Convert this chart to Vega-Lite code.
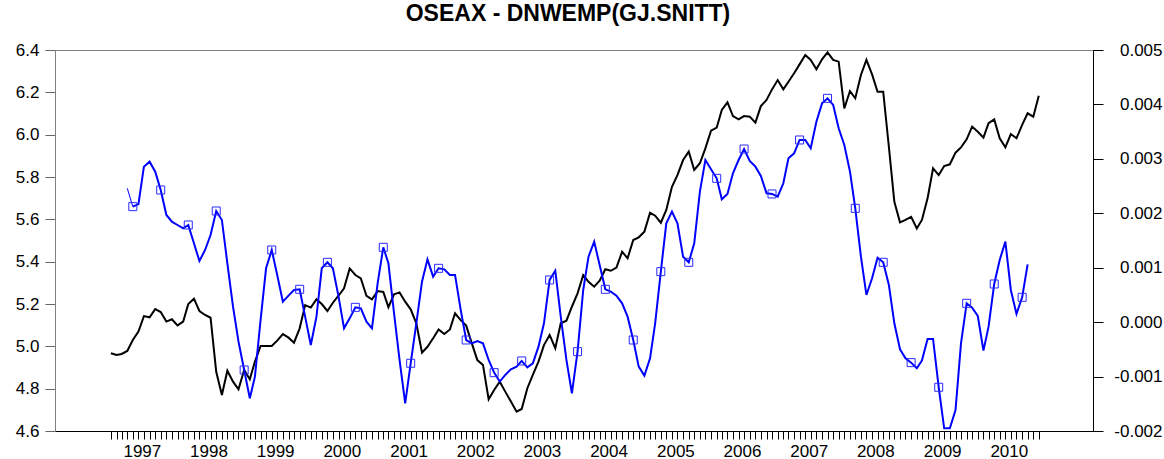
{
"$schema": "https://vega.github.io/schema/vega-lite/v6.json",
"width": 1038, "height": 381,
"autosize": {"type": "none"},
"padding": {"left": 55, "top": 50, "right": 71, "bottom": 28},
"background": "white",
"config": {"font": "Liberation Sans", "view": {"stroke": "#808080", "strokeWidth": 1}, "axis": {"grid": false}},
"title": {"text": "OSEAX - DNWEMP(GJ.SNITT)", "fontSize": 23, "fontWeight": "bold", "font": "Liberation Sans", "color": "black", "anchor": "middle", "offset": 15, "dx": -6},
"data": {"format": {"parse": {"d": "utc:'%Y-%m-%d'"}}, "values": [
{"d":"1997-01-01","oseax":4.967,"dnw":null},
{"d":"1997-02-01","oseax":4.959,"dnw":null},
{"d":"1997-03-01","oseax":4.964,"dnw":null},
{"d":"1997-04-01","oseax":4.978,"dnw":0.002459},
{"d":"1997-05-01","oseax":5.03,"dnw":0.002122},
{"d":"1997-06-01","oseax":5.07,"dnw":0.00217},
{"d":"1997-07-01","oseax":5.143,"dnw":0.002857},
{"d":"1997-08-01","oseax":5.137,"dnw":0.002949},
{"d":"1997-09-01","oseax":5.176,"dnw":0.002765},
{"d":"1997-10-01","oseax":5.162,"dnw":0.002428},
{"d":"1997-11-01","oseax":5.117,"dnw":0.001969},
{"d":"1997-12-01","oseax":5.128,"dnw":0.001846},
{"d":"1998-01-01","oseax":5.099,"dnw":0.001785},
{"d":"1998-02-01","oseax":5.117,"dnw":0.001724},
{"d":"1998-03-01","oseax":5.2,"dnw":0.001785},
{"d":"1998-04-01","oseax":5.225,"dnw":0.001448},
{"d":"1998-05-01","oseax":5.167,"dnw":0.001124},
{"d":"1998-06-01","oseax":5.148,"dnw":0.001326},
{"d":"1998-07-01","oseax":5.135,"dnw":0.001601},
{"d":"1998-08-01","oseax":4.88,"dnw":0.002042},
{"d":"1998-09-01","oseax":4.77,"dnw":0.001877},
{"d":"1998-10-01","oseax":4.885,"dnw":0.001081},
{"d":"1998-11-01","oseax":4.833,"dnw":0.000285},
{"d":"1998-12-01","oseax":4.797,"dnw":-0.000358},
{"d":"1999-01-01","oseax":4.888,"dnw":-0.000879},
{"d":"1999-02-01","oseax":4.844,"dnw":-0.001399},
{"d":"1999-03-01","oseax":4.928,"dnw":-0.001001},
{"d":"1999-04-01","oseax":5.002,"dnw":0.00004},
{"d":"1999-05-01","oseax":5.002,"dnw":0.000989},
{"d":"1999-06-01","oseax":5.002,"dnw":0.001326},
{"d":"1999-07-01","oseax":5.027,"dnw":0.000867},
{"d":"1999-08-01","oseax":5.058,"dnw":0.000377},
{"d":"1999-09-01","oseax":5.041,"dnw":0.000487},
{"d":"1999-10-01","oseax":5.017,"dnw":0.000591},
{"d":"1999-11-01","oseax":5.085,"dnw":0.000603},
{"d":"1999-12-01","oseax":5.195,"dnw":0.000101},
{"d":"2000-01-01","oseax":5.183,"dnw":-0.000419},
{"d":"2000-02-01","oseax":5.222,"dnw":0.000101},
{"d":"2000-03-01","oseax":5.2,"dnw":0.000989},
{"d":"2000-04-01","oseax":5.167,"dnw":0.001099},
{"d":"2000-05-01","oseax":5.206,"dnw":0.000989},
{"d":"2000-06-01","oseax":5.239,"dnw":0.000468},
{"d":"2000-07-01","oseax":5.274,"dnw":-0.000113},
{"d":"2000-08-01","oseax":5.368,"dnw":0.00007},
{"d":"2000-09-01","oseax":5.337,"dnw":0.000272},
{"d":"2000-10-01","oseax":5.321,"dnw":0.000254},
{"d":"2000-11-01","oseax":5.238,"dnw":0.000009},
{"d":"2000-12-01","oseax":5.222,"dnw":-0.000113},
{"d":"2001-01-01","oseax":5.261,"dnw":0.000713},
{"d":"2001-02-01","oseax":5.257,"dnw":0.001375},
{"d":"2001-03-01","oseax":5.185,"dnw":0.001081},
{"d":"2001-04-01","oseax":5.246,"dnw":0.000162},
{"d":"2001-05-01","oseax":5.255,"dnw":-0.000695},
{"d":"2001-06-01","oseax":5.211,"dnw":-0.001491},
{"d":"2001-07-01","oseax":5.175,"dnw":-0.000756},
{"d":"2001-08-01","oseax":5.109,"dnw":-0.000021},
{"d":"2001-09-01","oseax":4.97,"dnw":0.000744},
{"d":"2001-10-01","oseax":4.998,"dnw":0.001154},
{"d":"2001-11-01","oseax":5.038,"dnw":0.000836},
{"d":"2001-12-01","oseax":5.08,"dnw":0.000989},
{"d":"2002-01-01","oseax":5.058,"dnw":0.00097},
{"d":"2002-02-01","oseax":5.08,"dnw":0.000867},
{"d":"2002-03-01","oseax":5.156,"dnw":0.000867},
{"d":"2002-04-01","oseax":5.124,"dnw":0.000224},
{"d":"2002-05-01","oseax":5.098,"dnw":-0.000328},
{"d":"2002-06-01","oseax":5.014,"dnw":-0.000389},
{"d":"2002-07-01","oseax":4.935,"dnw":-0.000346},
{"d":"2002-08-01","oseax":4.912,"dnw":-0.000389},
{"d":"2002-09-01","oseax":4.75,"dnw":-0.000695},
{"d":"2002-10-01","oseax":4.794,"dnw":-0.000928},
{"d":"2002-11-01","oseax":4.833,"dnw":-0.001093},
{"d":"2002-12-01","oseax":4.786,"dnw":-0.00097},
{"d":"2003-01-01","oseax":4.739,"dnw":-0.000866},
{"d":"2003-02-01","oseax":4.691,"dnw":-0.000817},
{"d":"2003-03-01","oseax":4.704,"dnw":-0.000713},
{"d":"2003-04-01","oseax":4.802,"dnw":-0.00083},
{"d":"2003-05-01","oseax":4.865,"dnw":-0.000756},
{"d":"2003-06-01","oseax":4.928,"dnw":-0.00045},
{"d":"2003-07-01","oseax":5.006,"dnw":-0.000021},
{"d":"2003-08-01","oseax":5.054,"dnw":0.000775},
{"d":"2003-09-01","oseax":4.991,"dnw":0.000946},
{"d":"2003-10-01","oseax":5.109,"dnw":0.000101},
{"d":"2003-11-01","oseax":5.121,"dnw":-0.000695},
{"d":"2003-12-01","oseax":5.187,"dnw":-0.001307},
{"d":"2004-01-01","oseax":5.25,"dnw":-0.000542},
{"d":"2004-02-01","oseax":5.337,"dnw":0.000591},
{"d":"2004-03-01","oseax":5.305,"dnw":0.001203},
{"d":"2004-04-01","oseax":5.282,"dnw":0.001479},
{"d":"2004-05-01","oseax":5.31,"dnw":0.00105},
{"d":"2004-06-01","oseax":5.364,"dnw":0.000603},
{"d":"2004-07-01","oseax":5.357,"dnw":0.00056},
{"d":"2004-08-01","oseax":5.372,"dnw":0.000487},
{"d":"2004-09-01","oseax":5.447,"dnw":0.000346},
{"d":"2004-10-01","oseax":5.416,"dnw":0.000101},
{"d":"2004-11-01","oseax":5.502,"dnw":-0.000328},
{"d":"2004-12-01","oseax":5.515,"dnw":-0.000817},
{"d":"2005-01-01","oseax":5.542,"dnw":-0.000983},
{"d":"2005-02-01","oseax":5.631,"dnw":-0.000664},
{"d":"2005-03-01","oseax":5.617,"dnw":-0.000021},
{"d":"2005-04-01","oseax":5.584,"dnw":0.000928},
{"d":"2005-05-01","oseax":5.644,"dnw":0.001816},
{"d":"2005-06-01","oseax":5.754,"dnw":0.00203},
{"d":"2005-07-01","oseax":5.809,"dnw":0.001816},
{"d":"2005-08-01","oseax":5.88,"dnw":0.001203},
{"d":"2005-09-01","oseax":5.92,"dnw":0.001099},
{"d":"2005-10-01","oseax":5.833,"dnw":0.001448},
{"d":"2005-11-01","oseax":5.865,"dnw":0.002397},
{"d":"2005-12-01","oseax":5.935,"dnw":0.002979},
{"d":"2006-01-01","oseax":6.019,"dnw":0.002808},
{"d":"2006-02-01","oseax":6.033,"dnw":0.002642},
{"d":"2006-03-01","oseax":6.117,"dnw":0.002257},
{"d":"2006-04-01","oseax":6.153,"dnw":0.002355},
{"d":"2006-05-01","oseax":6.088,"dnw":0.002734},
{"d":"2006-06-01","oseax":6.072,"dnw":0.002979},
{"d":"2006-07-01","oseax":6.088,"dnw":0.003181},
{"d":"2006-08-01","oseax":6.085,"dnw":0.002961},
{"d":"2006-09-01","oseax":6.057,"dnw":0.002857},
{"d":"2006-10-01","oseax":6.135,"dnw":0.002685},
{"d":"2006-11-01","oseax":6.164,"dnw":0.002367},
{"d":"2006-12-01","oseax":6.214,"dnw":0.002355},
{"d":"2007-01-01","oseax":6.258,"dnw":0.002306},
{"d":"2007-02-01","oseax":6.214,"dnw":0.002551},
{"d":"2007-03-01","oseax":6.25,"dnw":0.00301},
{"d":"2007-04-01","oseax":6.29,"dnw":0.003102},
{"d":"2007-05-01","oseax":6.332,"dnw":0.003347},
{"d":"2007-06-01","oseax":6.376,"dnw":0.003347},
{"d":"2007-07-01","oseax":6.353,"dnw":0.003194},
{"d":"2007-08-01","oseax":6.309,"dnw":0.003683},
{"d":"2007-09-01","oseax":6.356,"dnw":0.00402},
{"d":"2007-10-01","oseax":6.389,"dnw":0.004112},
{"d":"2007-11-01","oseax":6.353,"dnw":0.00399},
{"d":"2007-12-01","oseax":6.345,"dnw":0.003561},
{"d":"2008-01-01","oseax":6.124,"dnw":0.003255},
{"d":"2008-02-01","oseax":6.206,"dnw":0.002765},
{"d":"2008-03-01","oseax":6.172,"dnw":0.002091},
{"d":"2008-04-01","oseax":6.282,"dnw":0.001203},
{"d":"2008-05-01","oseax":6.353,"dnw":0.000499},
{"d":"2008-06-01","oseax":6.285,"dnw":0.000806},
{"d":"2008-07-01","oseax":6.203,"dnw":0.001185},
{"d":"2008-08-01","oseax":6.203,"dnw":0.001099},
{"d":"2008-09-01","oseax":5.943,"dnw":0.000683},
{"d":"2008-10-01","oseax":5.683,"dnw":-0.000021},
{"d":"2008-11-01","oseax":5.586,"dnw":-0.000499},
{"d":"2008-12-01","oseax":5.597,"dnw":-0.000664},
{"d":"2009-01-01","oseax":5.612,"dnw":-0.000744},
{"d":"2009-02-01","oseax":5.557,"dnw":-0.000848},
{"d":"2009-03-01","oseax":5.597,"dnw":-0.000707},
{"d":"2009-04-01","oseax":5.699,"dnw":-0.000309},
{"d":"2009-05-01","oseax":5.841,"dnw":-0.000309},
{"d":"2009-06-01","oseax":5.809,"dnw":-0.001197},
{"d":"2009-07-01","oseax":5.852,"dnw":-0.00195},
{"d":"2009-08-01","oseax":5.86,"dnw":-0.00195},
{"d":"2009-09-01","oseax":5.915,"dnw":-0.001614},
{"d":"2009-10-01","oseax":5.94,"dnw":-0.000389},
{"d":"2009-11-01","oseax":5.978,"dnw":0.000346},
{"d":"2009-12-01","oseax":6.038,"dnw":0.000267},
{"d":"2010-01-01","oseax":6.014,"dnw":0.000113},
{"d":"2010-02-01","oseax":5.986,"dnw":-0.000524},
{"d":"2010-03-01","oseax":6.054,"dnw":-0.000083},
{"d":"2010-04-01","oseax":6.072,"dnw":0.000701},
{"d":"2010-05-01","oseax":5.983,"dnw":0.001142},
{"d":"2010-06-01","oseax":5.94,"dnw":0.001479},
{"d":"2010-07-01","oseax":6.003,"dnw":0.000591},
{"d":"2010-08-01","oseax":5.983,"dnw":0.00015},
{"d":"2010-09-01","oseax":6.046,"dnw":0.000456},
{"d":"2010-10-01","oseax":6.101,"dnw":0.001062},
{"d":"2010-11-01","oseax":6.085,"dnw":null},
{"d":"2010-12-01","oseax":6.184,"dnw":null}
]},
"encoding": {
  "x": {"field": "d", "type": "temporal",
    "scale": {"type": "utc", "domain": [{"year": 1996, "month": 3, "date": 1, "utc": true}, {"year": 2011, "month": 9, "date": 24, "utc": true}]},
    "axis": {"title": null, "grid": false,
      "values": [
{"year":1997,"month":1,"utc":true},{"year":1997,"month":2,"utc":true},{"year":1997,"month":3,"utc":true},{"year":1997,"month":4,"utc":true},{"year":1997,"month":5,"utc":true},{"year":1997,"month":6,"utc":true},{"year":1997,"month":7,"utc":true},{"year":1997,"month":8,"utc":true},{"year":1997,"month":9,"utc":true},{"year":1997,"month":10,"utc":true},{"year":1997,"month":11,"utc":true},{"year":1997,"month":12,"utc":true},
{"year":1998,"month":1,"utc":true},{"year":1998,"month":2,"utc":true},{"year":1998,"month":3,"utc":true},{"year":1998,"month":4,"utc":true},{"year":1998,"month":5,"utc":true},{"year":1998,"month":6,"utc":true},{"year":1998,"month":7,"utc":true},{"year":1998,"month":8,"utc":true},{"year":1998,"month":9,"utc":true},{"year":1998,"month":10,"utc":true},{"year":1998,"month":11,"utc":true},{"year":1998,"month":12,"utc":true},
{"year":1999,"month":1,"utc":true},{"year":1999,"month":2,"utc":true},{"year":1999,"month":3,"utc":true},{"year":1999,"month":4,"utc":true},{"year":1999,"month":5,"utc":true},{"year":1999,"month":6,"utc":true},{"year":1999,"month":7,"utc":true},{"year":1999,"month":8,"utc":true},{"year":1999,"month":9,"utc":true},{"year":1999,"month":10,"utc":true},{"year":1999,"month":11,"utc":true},{"year":1999,"month":12,"utc":true},
{"year":2000,"month":1,"utc":true},{"year":2000,"month":2,"utc":true},{"year":2000,"month":3,"utc":true},{"year":2000,"month":4,"utc":true},{"year":2000,"month":5,"utc":true},{"year":2000,"month":6,"utc":true},{"year":2000,"month":7,"utc":true},{"year":2000,"month":8,"utc":true},{"year":2000,"month":9,"utc":true},{"year":2000,"month":10,"utc":true},{"year":2000,"month":11,"utc":true},{"year":2000,"month":12,"utc":true},
{"year":2001,"month":1,"utc":true},{"year":2001,"month":2,"utc":true},{"year":2001,"month":3,"utc":true},{"year":2001,"month":4,"utc":true},{"year":2001,"month":5,"utc":true},{"year":2001,"month":6,"utc":true},{"year":2001,"month":7,"utc":true},{"year":2001,"month":8,"utc":true},{"year":2001,"month":9,"utc":true},{"year":2001,"month":10,"utc":true},{"year":2001,"month":11,"utc":true},{"year":2001,"month":12,"utc":true},
{"year":2002,"month":1,"utc":true},{"year":2002,"month":2,"utc":true},{"year":2002,"month":3,"utc":true},{"year":2002,"month":4,"utc":true},{"year":2002,"month":5,"utc":true},{"year":2002,"month":6,"utc":true},{"year":2002,"month":7,"utc":true},{"year":2002,"month":8,"utc":true},{"year":2002,"month":9,"utc":true},{"year":2002,"month":10,"utc":true},{"year":2002,"month":11,"utc":true},{"year":2002,"month":12,"utc":true},
{"year":2003,"month":1,"utc":true},{"year":2003,"month":2,"utc":true},{"year":2003,"month":3,"utc":true},{"year":2003,"month":4,"utc":true},{"year":2003,"month":5,"utc":true},{"year":2003,"month":6,"utc":true},{"year":2003,"month":7,"utc":true},{"year":2003,"month":8,"utc":true},{"year":2003,"month":9,"utc":true},{"year":2003,"month":10,"utc":true},{"year":2003,"month":11,"utc":true},{"year":2003,"month":12,"utc":true},
{"year":2004,"month":1,"utc":true},{"year":2004,"month":2,"utc":true},{"year":2004,"month":3,"utc":true},{"year":2004,"month":4,"utc":true},{"year":2004,"month":5,"utc":true},{"year":2004,"month":6,"utc":true},{"year":2004,"month":7,"utc":true},{"year":2004,"month":8,"utc":true},{"year":2004,"month":9,"utc":true},{"year":2004,"month":10,"utc":true},{"year":2004,"month":11,"utc":true},{"year":2004,"month":12,"utc":true},
{"year":2005,"month":1,"utc":true},{"year":2005,"month":2,"utc":true},{"year":2005,"month":3,"utc":true},{"year":2005,"month":4,"utc":true},{"year":2005,"month":5,"utc":true},{"year":2005,"month":6,"utc":true},{"year":2005,"month":7,"utc":true},{"year":2005,"month":8,"utc":true},{"year":2005,"month":9,"utc":true},{"year":2005,"month":10,"utc":true},{"year":2005,"month":11,"utc":true},{"year":2005,"month":12,"utc":true},
{"year":2006,"month":1,"utc":true},{"year":2006,"month":2,"utc":true},{"year":2006,"month":3,"utc":true},{"year":2006,"month":4,"utc":true},{"year":2006,"month":5,"utc":true},{"year":2006,"month":6,"utc":true},{"year":2006,"month":7,"utc":true},{"year":2006,"month":8,"utc":true},{"year":2006,"month":9,"utc":true},{"year":2006,"month":10,"utc":true},{"year":2006,"month":11,"utc":true},{"year":2006,"month":12,"utc":true},
{"year":2007,"month":1,"utc":true},{"year":2007,"month":2,"utc":true},{"year":2007,"month":3,"utc":true},{"year":2007,"month":4,"utc":true},{"year":2007,"month":5,"utc":true},{"year":2007,"month":6,"utc":true},{"year":2007,"month":7,"utc":true},{"year":2007,"month":8,"utc":true},{"year":2007,"month":9,"utc":true},{"year":2007,"month":10,"utc":true},{"year":2007,"month":11,"utc":true},{"year":2007,"month":12,"utc":true},
{"year":2008,"month":1,"utc":true},{"year":2008,"month":2,"utc":true},{"year":2008,"month":3,"utc":true},{"year":2008,"month":4,"utc":true},{"year":2008,"month":5,"utc":true},{"year":2008,"month":6,"utc":true},{"year":2008,"month":7,"utc":true},{"year":2008,"month":8,"utc":true},{"year":2008,"month":9,"utc":true},{"year":2008,"month":10,"utc":true},{"year":2008,"month":11,"utc":true},{"year":2008,"month":12,"utc":true},
{"year":2009,"month":1,"utc":true},{"year":2009,"month":2,"utc":true},{"year":2009,"month":3,"utc":true},{"year":2009,"month":4,"utc":true},{"year":2009,"month":5,"utc":true},{"year":2009,"month":6,"utc":true},{"year":2009,"month":7,"utc":true},{"year":2009,"month":8,"utc":true},{"year":2009,"month":9,"utc":true},{"year":2009,"month":10,"utc":true},{"year":2009,"month":11,"utc":true},{"year":2009,"month":12,"utc":true},
{"year":2010,"month":1,"utc":true},{"year":2010,"month":2,"utc":true},{"year":2010,"month":3,"utc":true},{"year":2010,"month":4,"utc":true},{"year":2010,"month":5,"utc":true},{"year":2010,"month":6,"utc":true},{"year":2010,"month":7,"utc":true},{"year":2010,"month":8,"utc":true},{"year":2010,"month":9,"utc":true},{"year":2010,"month":10,"utc":true},{"year":2010,"month":11,"utc":true},{"year":2010,"month":12,"utc":true}
      ],
      "tickSize": 8,
      "tickColor": "black", "tickWidth": 1,
      "domainColor": "black", "domainWidth": 1,
      "encode": {"ticks": {"update": {"y2": {"signal": "utcmonth(datum.value) == 0 ? 8 : 4"}}}},
      "labelExpr": "utcmonth(datum.value) == 0 ? utcFormat(datum.value, '%Y') : ''",
      "labelOffset": 31, "labelOverlap": false, "labelFlush": false, "labelBound": false,
      "labelPadding": 4, "labelFontSize": 17, "labelColor": "black", "labelAngle": 0, "labelFont": "Liberation Sans"}
  }
},
"layer": [
  {"mark": {"type": "line", "color": "black", "strokeWidth": 2},
   "encoding": {"y": {"field": "oseax", "type": "quantitative",
     "scale": {"domain": [4.6, 6.4], "nice": false, "zero": false},
     "axis": {"orient": "left", "title": null, "grid": false, "values": [4.6, 4.8, 5.0, 5.2, 5.4, 5.6, 5.8, 6.0, 6.2, 6.4], "format": ".1f",
       "tickSize": 10, "tickColor": "#666666", "domainColor": "#808080", "labelPadding": 6, "labelFontSize": 17, "labelColor": "black", "labelFont": "Liberation Sans"}}}},
  {"transform": [{"filter": "isValid(datum.dnw) && time(datum.d) >= utc(1997, 4, 1)"}],
   "mark": {"type": "line", "color": "#0000ff", "strokeWidth": 2},
   "encoding": {"y": {"field": "dnw", "type": "quantitative",
     "scale": {"domain": [-0.002, 0.005], "nice": false, "zero": false},
     "axis": {"orient": "right", "title": null, "grid": false, "values": [-0.002, -0.001, 0, 0.001, 0.002, 0.003, 0.004, 0.005],
       "labelExpr": "(datum.value < -1e-9 ? '-' : '') + format(abs(datum.value), '.3f')",
       "tickSize": 10, "tickColor": "black", "domainColor": "black", "labelAlign": "right", "labelPadding": 59, "labelFontSize": 17, "labelColor": "black", "labelFont": "Liberation Sans"}}}},
  {"transform": [{"filter": "isValid(datum.dnw) && time(datum.d) <= utc(1997, 4, 1)"}],
   "mark": {"type": "line", "color": "#0000ff", "strokeWidth": 1},
   "encoding": {"y": {"field": "dnw", "type": "quantitative", "scale": {"domain": [-0.002, 0.005], "nice": false, "zero": false}, "axis": null}}},
  {"transform": [{"filter": "isValid(datum.dnw) && ((utcyear(datum.d) - 1997) * 12 + utcmonth(datum.d)) % 5 == 4"}],
   "mark": {"type": "point", "shape": "square", "filled": false, "size": 64, "color": "#2a2aff", "strokeWidth": 1, "opacity": 1},
   "encoding": {"y": {"field": "dnw", "type": "quantitative", "scale": {"domain": [-0.002, 0.005], "nice": false, "zero": false}, "axis": null}}}
],
"resolve": {"scale": {"y": "independent"}}
}
